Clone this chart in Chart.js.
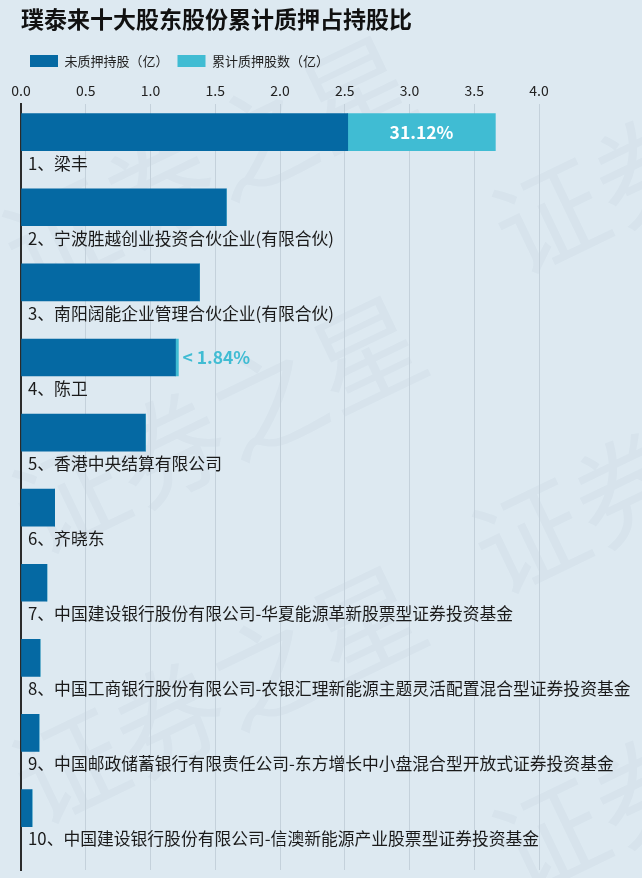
<!DOCTYPE html>
<html>
<head>
<meta charset="utf-8">
<script src="https://cdn.jsdelivr.net/npm/chart.js@4"></script>
<style>
  html, body { margin: 0; padding: 0; background: #dde9f1; }
  #wrap { width: 642px; height: 878px; }
</style>
</head>
<body>
<div id="wrap"><canvas id="chart" width="642" height="878"></canvas></div>
<script>
const holders = [
  "1、梁丰",
  "2、宁波胜越创业投资合伙企业(有限合伙)",
  "3、南阳阔能企业管理合伙企业(有限合伙)",
  "4、陈卫",
  "5、香港中央结算有限公司",
  "6、齐晓东",
  "7、中国建设银行股份有限公司-华夏能源革新股票型证券投资基金",
  "8、中国工商银行股份有限公司-农银汇理新能源主题灵活配置混合型证券投资基金",
  "9、中国邮政储蓄银行有限责任公司-东方增长中小盘混合型开放式证券投资基金",
  "10、中国建设银行股份有限公司-信澳新能源产业股票型证券投资基金",
];
const unpledged = [2.523, 1.585, 1.378, 1.193, 0.96, 0.26, 0.20, 0.147, 0.139, 0.085];
const pledged   = [1.14, 0, 0, 0.0224, 0, 0, 0, 0, 0, 0];
const pledgeRatio = ["31.12%", "", "", "1.84%", "", "", "", "", "", ""];
const xTicks = [0, 0.5, 1, 1.5, 2, 2.5, 3, 3.5, 4];

const DARK = "#0569a3";
const LIGHT = "#40bcd3";
const FONT = "'Noto Sans CJK SC', 'Noto Sans', sans-serif";

const backdrop = {
  id: "backdrop",
  beforeDraw(chart) {
    const { ctx, width, height } = chart;
    ctx.save();
    ctx.fillStyle = "#dde9f1";
    ctx.fillRect(0, 0, width, height);
    // faint watermark
    ctx.fillStyle = "rgba(60,90,120,0.035)";
    ctx.font = "110px " + FONT;
    const marks = [[10, 260], [20, 520], [20, 790], [500, 240], [480, 560], [500, 860]];
    marks.forEach(([x, y]) => {
      ctx.save();
      ctx.translate(x, y);
      ctx.rotate(-Math.PI / 7);
      ctx.fillText("证券之星", 0, 0);
      ctx.restore();
    });
    ctx.restore();
  },
};

const rowText = {
  id: "rowText",
  afterDatasetsDraw(chart) {
    const { ctx } = chart;
    const yScale = chart.scales.y;
    const top = chart.getDatasetMeta(1);
    ctx.save();
    ctx.textBaseline = "middle";
    holders.forEach((name, i) => {
      const cy = yScale.getPixelForValue(i);
      ctx.fillStyle = "#1a1a1a";
      ctx.textAlign = "left";
      ctx.font = "16.8px " + FONT;
      ctx.fillText(name, 28, cy + 31);

      if (!pledgeRatio[i]) return;
      const el = top.data[i];
      const w = el.x - el.base;
      ctx.font = "bold 17.5px " + FONT;
      if (w > 60) {
        ctx.fillStyle = "#ffffff";
        ctx.textAlign = "center";
        ctx.fillText(pledgeRatio[i], (el.x + el.base) / 2, cy);
      } else {
        ctx.fillStyle = LIGHT;
        ctx.textAlign = "left";
        ctx.fillText("< " + pledgeRatio[i], el.x + 4, cy);
      }
    });
    ctx.restore();
  },
};

new Chart(document.getElementById("chart"), {
  type: "bar",
  data: {
    datasets: [
      {
        label: "未质押持股（亿）",
        data: unpledged.map((v, i) => ({ x: v, y: i })),
        backgroundColor: DARK,
        barThickness: 37,
      },
      {
        label: "累计质押股数（亿）",
        data: pledged.map((v, i) => ({ x: v, y: i })),
        backgroundColor: LIGHT,
        barThickness: 37,
      },
    ],
  },
  options: {
    indexAxis: "y",
    responsive: false,
    animation: false,
    layout: { padding: { left: 21, right: 103, top: 0, bottom: 8 } },
    plugins: {
      title: {
        display: true,
        text: "璞泰来十大股东股份累计质押占持股比",
        align: "start",
        color: "#111",
        font: { family: FONT, size: 23, weight: "bold" },
        padding: { top: 5, bottom: 13 },
      },
      legend: {
        position: "top",
        align: "start",
        labels: {
          color: "#222",
          font: { family: FONT, size: 13 },
          boxWidth: 28,
          boxHeight: 12,
          padding: 9,
        },
      },
      tooltip: { enabled: false },
    },
    scales: {
      x: {
        type: "linear",
        position: "top",
        stacked: true,
        min: 0,
        max: 4,
        afterBuildTicks: (scale) => { scale.ticks = xTicks.map((v) => ({ value: v })); },
        ticks: {
          color: "#222",
          font: { family: FONT, size: 14 },
          padding: 5,
          callback: (v) => Number(v).toFixed(1),
        },
        grid: { color: "#c4d1db", drawTicks: false },
        border: { display: false },
      },
      y: {
        type: "linear",
        stacked: true,
        reverse: true,
        offset: false,
        min: -0.37,
        max: 9.825,
        afterFit: (scale) => { scale.width = 0; },
        ticks: { display: false },
        grid: { display: false, offset: false },
        border: { color: "#2b2b2b", width: 2 },
      },
    },
  },
  plugins: [backdrop, rowText],
});
</script>
</body>
</html>
